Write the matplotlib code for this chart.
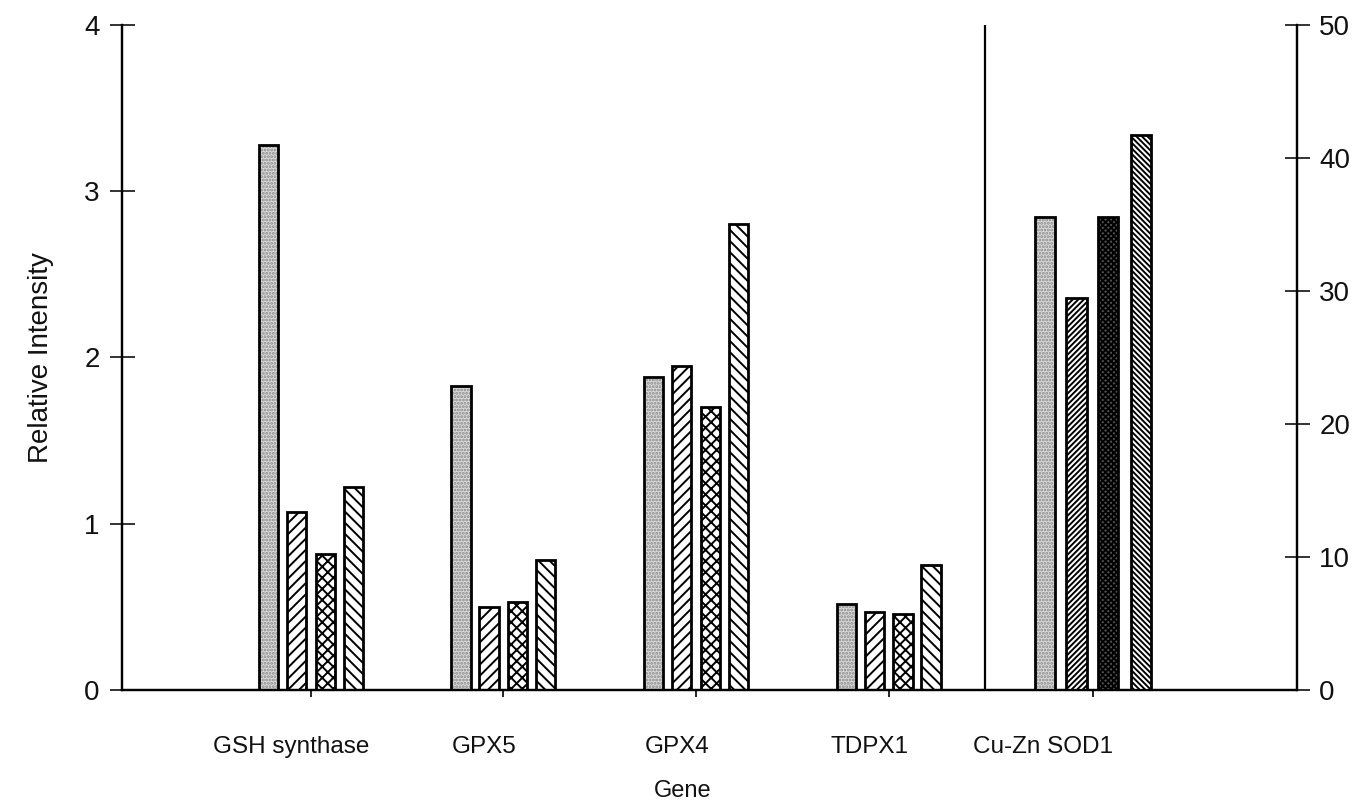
import numpy as np
import matplotlib
matplotlib.use("Agg")
import matplotlib.pyplot as plt

plt.rcParams['font.family'] = ['Liberation Sans', 'DejaVu Sans']
plt.rcParams['hatch.linewidth'] = 1.4

# relative intensity of each gene, four treatments per gene
genes = ['GSH synthase', 'GPX5', 'GPX4', 'TDPX1']
treat_1 = [3.28, 1.83, 1.88, 0.52]
treat_2 = [1.07, 0.50, 1.95, 0.47]
treat_3 = [0.82, 0.53, 1.70, 0.46]
treat_4 = [1.22, 0.78, 2.80, 0.75]

# Cu-Zn SOD1 is read against the right-hand axis
sod_gene = 'Cu-Zn SOD1'
sod_values = [35.6, 29.5, 35.6, 41.7]

left_ticks = [0, 1, 2, 3, 4]
right_ticks = [0, 10, 20, 30, 40, 50]

fig = plt.figure(figsize=(13.66, 8.09), dpi=100)
ax = fig.add_axes([0.0893, 0.1471, 0.8602, 0.822])
ax2 = ax.twinx()

styles = [
    dict(face='#dadada', hatch='.....', hc='#8a8a8a'),
    dict(face='white', hatch='///', hc='black'),
    dict(face='white', hatch='xxx', hc='black'),
    dict(face='white', hatch='\\\\\\', hc='black'),
]
sod_styles = [
    dict(face='#dadada', hatch='.....', hc='#8a8a8a'),
    dict(face='white', hatch='//////', hc='black'),
    dict(face='#555555', hatch='xxxxxx', hc='black'),
    dict(face='white', hatch='\\\\\\\\\\\\', hc='black'),
]


def draw_bar(axis, x, h, w, st):
    axis.bar(x, h, w, color=st['face'], hatch=st['hatch'],
             edgecolor=st['hc'], linewidth=0, zorder=2)
    axis.bar(x, h, w, color='none', edgecolor='black', linewidth=2.0, zorder=3)


x = np.arange(len(genes))
offsets = [-0.22, -0.075, 0.075, 0.22]
width = 0.1
for series, off, st in zip([treat_1, treat_2, treat_3, treat_4], offsets, styles):
    for xi, h in zip(x, series):
        draw_bar(ax, xi + off, h, width, st)

sod_x = len(genes) + 0.06
sod_offsets = [-0.25, -0.085, 0.08, 0.25]
for h, off, st in zip(sod_values, sod_offsets, sod_styles):
    draw_bar(ax2, sod_x + off, h, 0.105, st)

ax.axvline(3.5, color='black', linewidth=1.6, zorder=4)

ax.set_xlim(-0.98, 5.12)
ax.set_ylim(0, 4)
ax2.set_ylim(0, 50)

ax.set_yticks(left_ticks)
ax2.set_yticks(right_ticks)
ax.tick_params(axis='y', direction='inout', length=18, width=1.2, pad=7,
               labelsize=20, colors='#111111')
ax2.tick_params(axis='y', direction='inout', length=18, width=1.2, pad=7,
                labelsize=20, colors='#111111')

# short ticks at the group centres, labels sit a little to the left
ax.set_xticks(list(x) + [sod_x], minor=True)
ax.tick_params(axis='x', which='minor', direction='out', length=5, width=1.2)
label_pos = list(x - 0.1) + [sod_x - 0.26]
ax.set_xticks(label_pos)
ax.set_xticklabels(genes + [sod_gene])
ax.tick_params(axis='x', which='major', length=0, pad=33, labelsize=17.5,
               colors='#111111')

for a in (ax, ax2):
    a.spines['top'].set_visible(False)
    for s in ('left', 'right', 'bottom'):
        a.spines[s].set_linewidth(1.6)

ax.set_ylabel('Relative Intensity', fontsize=20, color='#111111', labelpad=22)
ax.set_xlabel('Gene', fontsize=17, color='#111111')
ax.xaxis.set_label_coords(0.477, -0.135)

fig.savefig('out.png', dpi=100)
